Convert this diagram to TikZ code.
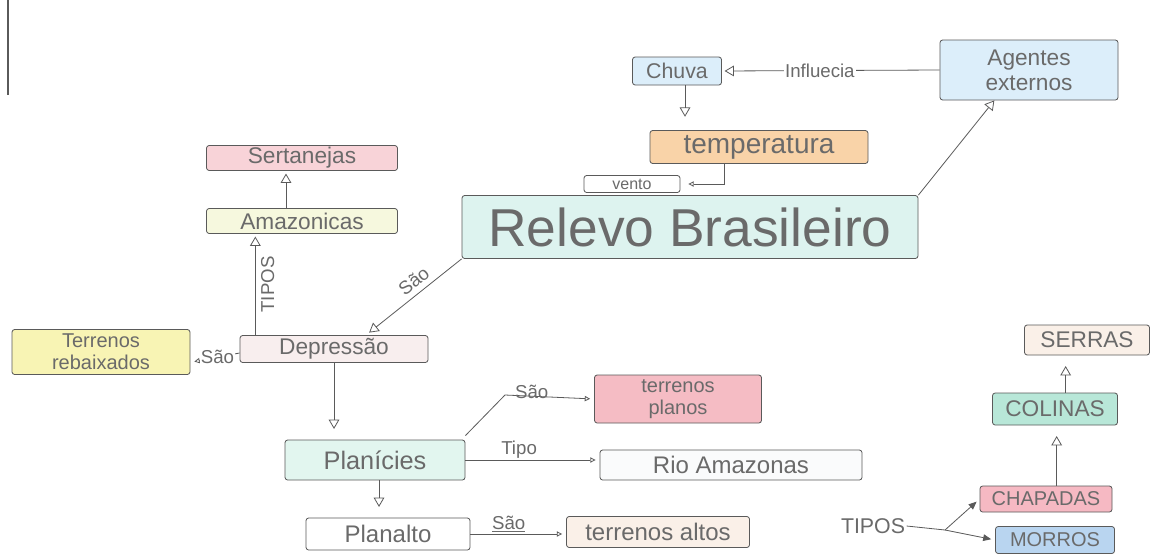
\documentclass[tikz,border=0pt]{standalone}
\usepackage{fontspec}
\setmainfont{Liberation Sans}
\usetikzlibrary{arrows.meta,calc}
\definecolor{inkc}{HTML}{6A6A6A}
\definecolor{linec}{HTML}{5A5A5A}
\definecolor{cblue}{HTML}{DCEEFA}
\definecolor{corange}{HTML}{F9D3A8}
\definecolor{ccyan}{HTML}{DDF3EF}
\definecolor{cpink}{HTML}{F8D3D8}
\definecolor{cyell}{HTML}{F6F8DE}
\definecolor{cdepr}{HTML}{F8EEEE}
\definecolor{cyellow}{HTML}{F8F4B4}
\definecolor{cmint}{HTML}{E2F6EF}
\definecolor{crose}{HTML}{F5BCC4}
\definecolor{cwhite}{HTML}{FAFBFC}
\definecolor{cpeach}{HTML}{FAF0E8}
\definecolor{cchap}{HTML}{F6B9C3}
\definecolor{cmorros}{HTML}{B9D5F0}
\definecolor{ccol}{HTML}{B8E7D8}
\tikzset{
  box/.style={draw=linec, line width=0.6pt, rounded corners=2pt, text=inkc, inner sep=1pt, align=center},
  sz/.style 2 args={minimum width=#1*0.75pt, minimum height=#2*0.75pt},
  fs/.style={font=\fontsize{#1pt}{1.1\dimexpr #1pt\relax}\selectfont},
  conn/.style={draw=linec, line width=0.6pt},
  oarr/.style={conn, -{Triangle[open, length=7pt, width=8pt]}},
  sarr/.style={conn, -{Triangle[open, length=4pt, width=4pt]}},
  farr/.style={conn, -{Triangle[length=6pt, width=5pt]}},
  lbl/.style={text=inkc, font=\fontsize{14pt}{16pt}\selectfont, inner sep=1pt},
}
\begin{document}
\begin{tikzpicture}[x=0.75pt, y=-0.75pt]
\path[use as bounding box, fill=white] (0,0) rectangle (1168,554);
\draw[linec, line width=0.8pt] (8,0) -- (8,95);
% nodes
\node[box, fill=cblue, sz={89}{28}, fs=16] (chuva) at (677,71) {Chuva};
\node[box, fill=cblue, sz={178}{60}, fs=17] (agentes) at (1029,70) {Agentes\\externos};
\node[box, fill=corange, sz={218}{33}, fs=21] (temp) at (759,147) {temperatura};
\node[box, fill=white, sz={96}{17}, fs=12] (vento) at (632,184) {vento};
\node[box, fill=ccyan, sz={456}{63}, fs=40] (relevo) at (690,227) {Relevo Brasileiro};
\node[box, fill=cpink, sz={191}{25}, fs=17] (sert) at (302,158) {Sertanejas};
\node[box, fill=cyell, sz={191}{25}, fs=17] (amaz) at (302,221) {Amazonicas};
\node[box, fill=cdepr, sz={188}{27}, fs=17] (depr) at (334,349) {Depressão};
\node[box, fill=cyellow, sz={178}{45}, fs=15] (terreb) at (101,352) {Terrenos\\rebaixados};
\node[box, fill=cmint, sz={180}{40}, fs=19] (plan) at (375,460) {Planícies};
\node[box, fill=crose, sz={167}{48}, fs=15] (terplan) at (678,399) {terrenos\\planos};
\node[box, fill=cwhite, sz={262}{30}, fs=18] (rio) at (731,465) {Rio Amazonas};
\node[box, fill=white, sz={164}{32}, fs=18] (planalto) at (388,534) {Planalto};
\node[box, fill=cpeach, sz={183}{31}, fs=18] (teralt) at (658,532) {terrenos altos};
\node[lbl, font=\fontsize{16pt}{18pt}\selectfont] (tipos) at (873,526) {TIPOS};
\coordinate (junc) at (945,530);
\node[box, fill=cchap, sz={132}{26}, fs=15] (chap) at (1046,499) {CHAPADAS};
\node[box, fill=cmorros, sz={119}{27}, fs=15] (morros) at (1055,540) {MORROS};
\node[box, fill=ccol, sz={125}{32}, fs=17] (colinas) at (1055,409) {COLINAS};
\node[box, fill=cpeach, sz={125}{30}, fs=17] (serras) at (1087,340) {SERRAS};
% connectors
\draw[oarr, shorten >=2pt] (agentes.west) -- (chuva.east)
  node[lbl, pos=0.55, fill=white] {Influecia};
\draw[oarr, shorten >=10pt] ([xshift=6]chuva.south) -- ([xshift=6]chuva.south |- temp.north);
\draw[sarr, shorten >=6pt] ([xshift=-26]temp.south) |- (vento.east);
\draw[oarr] (relevo.north east) -- ([xshift=-26]agentes.south);
\draw[oarr, shorten >=2pt] ([xshift=-12]amaz.north) -- ([xshift=-12]amaz.north |- sert.south);
\draw[oarr, shorten >=2pt] ([xshift=-59]depr.north) -- ([xshift=-59]depr.north |- amaz.south)
  node[lbl, pos=0.5, right=3pt, rotate=90, anchor=north] {TIPOS};
\draw[oarr, shorten >=3pt] (relevo.south west) -- ([xshift=24]depr.north)
  node[lbl, pos=0.42, sloped, above=3pt] {São};
\draw[sarr, shorten >=3pt] ([yshift=-3]depr.west) -- ([yshift=-10]terreb.east |- depr.west)
  node[lbl, pos=0.45, fill=white] {São};
\draw[oarr, shorten >=8pt] (depr.south) -- (depr.south |- plan.north);
\draw[sarr, shorten >=3pt] ([yshift=3]plan.north east) -- (505,395) -- (terplan.west)
  node[lbl, pos=0.3, above, yshift=-3pt] {São};
\draw[sarr, shorten >=3pt] (plan.east) -- (plan.east -| rio.west)
  node[lbl, pos=0.4, above] {Tipo};
\draw[oarr, shorten >=8pt] ([xshift=3]plan.south) -- ([xshift=3]plan.south |- planalto.north);
\draw[sarr, shorten >=3pt] (planalto.east) -- (planalto.east -| teralt.west)
  node[lbl, pos=0.4, above] {\underline{São}};
\draw[conn] (tipos.east) -- (junc);
\draw[farr, shorten >=3pt] (junc) -- (chap.west);
\draw[farr, shorten >=3pt] (junc) -- (morros.west);
\draw[oarr, shorten >=8pt] ([xshift=8]chap.north) -- ([xshift=8]chap.north |- colinas.south);
\draw[oarr, shorten >=8pt] ([xshift=8]colinas.north) -- ([xshift=8]colinas.north |- serras.south);
\end{tikzpicture}
\end{document}
